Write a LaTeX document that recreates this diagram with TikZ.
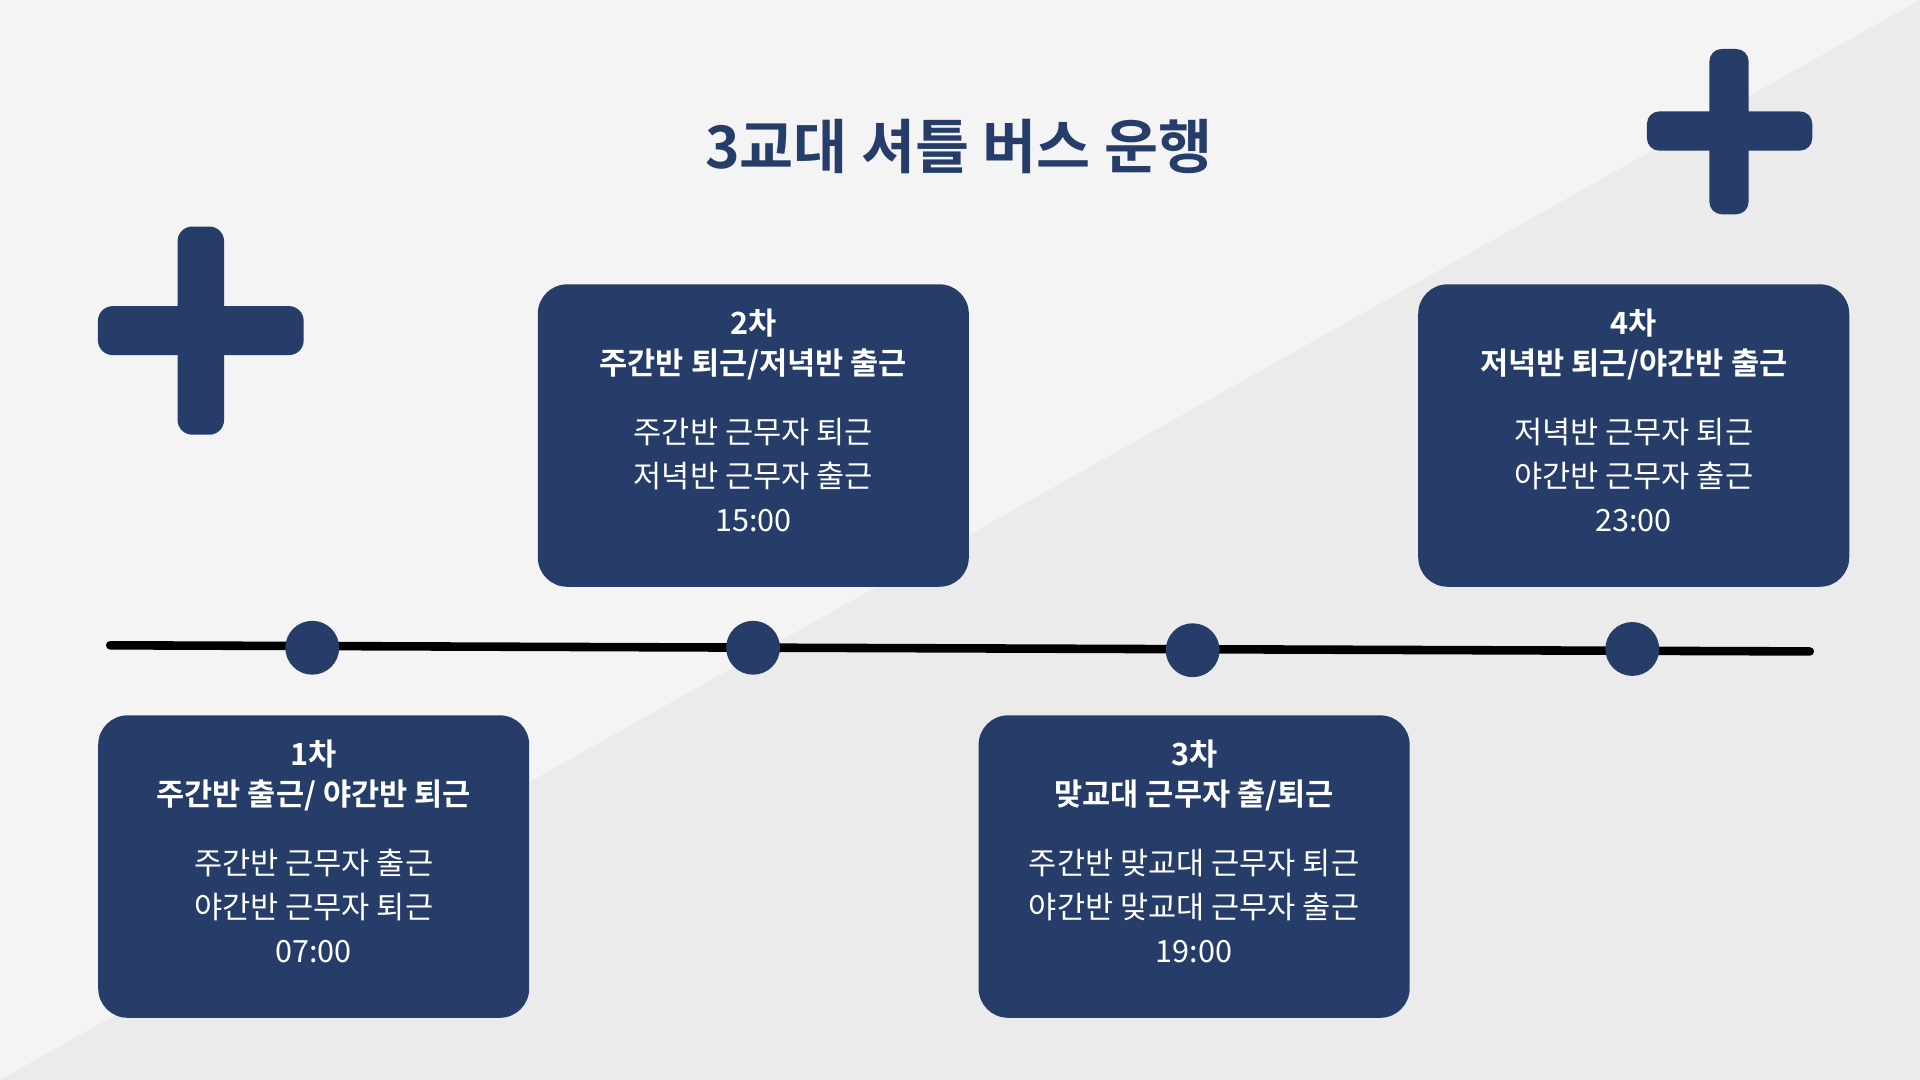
\documentclass[tikz,border=0pt]{standalone}
\usepackage{fontspec}
\setmainfont{Noto Sans CJK KR}
\newfontfamily\krb{Noto Sans CJK KR Bold}
\definecolor{navy}{HTML}{263D6A}
\definecolor{bgA}{HTML}{F4F4F4}
\definecolor{bgB}{HTML}{EBEBEB}
\begin{document}
\begin{tikzpicture}[x=1pt,y=-1pt,
  card/.style={fill=navy,rounded corners=24pt,minimum width=352pt,minimum height=247pt,anchor=north west},
  dot/.style={circle,fill=navy,minimum size=44pt,inner sep=0pt},
  hd/.style={text=white,font=\krb\fontsize{25}{30}\selectfont},
  bd/.style={text=white,font=\fontsize{25}{30}\selectfont},
  bar/.style={fill=navy,rounded corners=12pt}]
\fill[bgA] (0,0) rectangle (1568,882);
\fill[bgB] (0,882) -- (1568,0) -- (1568,882) -- cycle;
\useasboundingbox (0,0) rectangle (1568,882);
\node[text=navy,font=\krb\fontsize{48}{56}\selectfont] (title) at (783,120) {3교대 셔틀 버스 운행};
% plus signs
\fill[bar] (145,185) rectangle (183,355);
\fill[bar] (80,250) rectangle (248,290);
\fill[bar,rounded corners=10pt] (1396,40) rectangle (1428,175);
\fill[bar,rounded corners=10pt] (1345,91) rectangle (1480,123);
% timeline
\coordinate (ls) at (90,527);
\coordinate (le) at (1478,532);
\draw[line width=7pt,line cap=round] (ls) -- (le);
\node[dot] (d1) at (255,529) {};
\node[dot] (d2) at (615,529) {};
\node[dot] (d3) at (974,531) {};
\node[dot] (d4) at (1333,530) {};
% cards
\node[card] (c1) at (80,584) {};
\node[card] (c2) at (439,232) {};
\node[card] (c3) at (799,584) {};
\node[card] (c4) at (1158,232) {};
\foreach \c/\a/\b/\p/\q/\t in {
 c1/1차/{주간반 출근/ 야간반 퇴근}/{주간반 근무자 출근}/{야간반 근무자 퇴근}/07:00,
 c2/2차/{주간반 퇴근/저녁반 출근}/{주간반 근무자 퇴근}/{저녁반 근무자 출근}/15:00,
 c3/3차/{맞교대 근무자 출/퇴근}/{주간반 맞교대 근무자 퇴근}/{야간반 맞교대 근무자 출근}/19:00,
 c4/4차/{저녁반 퇴근/야간반 출근}/{저녁반 근무자 퇴근}/{야간반 근무자 출근}/23:00}{
 \node[hd] (\c h1) at ([yshift=-32pt]\c.north) {\a};
 \node[hd] (\c h2) at ([yshift=-66pt]\c.north) {\b};
 \node[bd] (\c b1) at ([yshift=-121pt]\c.north) {\p};
 \node[bd] (\c b2) at ([yshift=-157pt]\c.north) {\q};
 \node[bd] (\c b3) at ([yshift=-193pt]\c.north) {\t};
}
\end{tikzpicture}
\end{document}
